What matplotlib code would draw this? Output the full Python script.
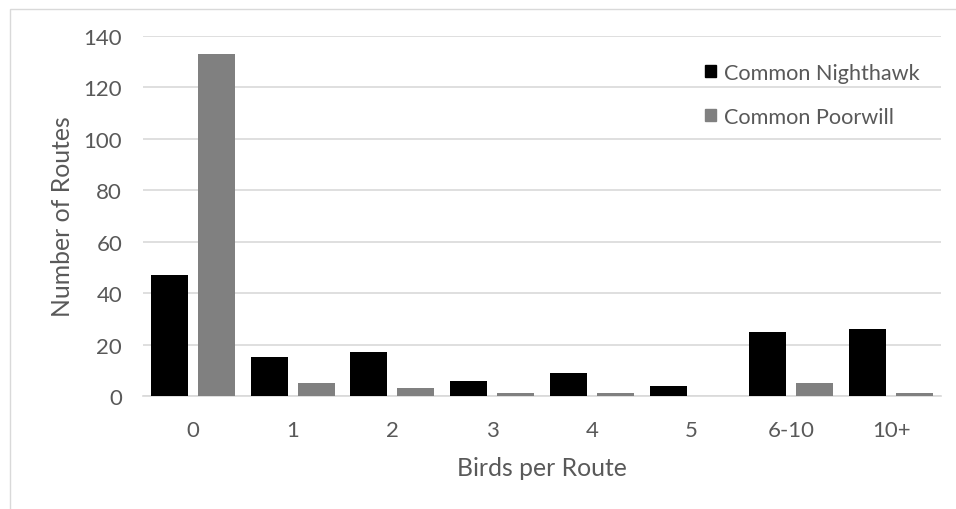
import matplotlib
matplotlib.use("Agg")
import matplotlib.pyplot as plt
import matplotlib.patches as mpatches
import numpy as np

# Breeding Bird Survey counts per route
categories = ["0", "1", "2", "3", "4", "5", "6-10", "10+"]
nighthawk = [47, 15, 17, 6, 9, 4, 25, 26]
poorwill = [133, 5, 3, 1, 1, 0, 5, 1]
series_names = ["Common Nighthawk", "Common Poorwill"]
y_ticks = [0, 20, 40, 60, 80, 100, 120, 140]

TEXT = "#595959"
GRID = "#d9d9d9"

plt.rcParams["font.family"] = ["Lato", "DejaVu Sans"]

fig = plt.figure(figsize=(9.56, 5.10), dpi=100)
ax = fig.add_axes([143 / 956, 1 - 397 / 510, 798 / 956, 360 / 510])

x = np.arange(len(categories))
width = 0.37
gap = 0.10
ax.bar(x - (width + gap) / 2, nighthawk, width, color="#000000", label=series_names[0], zorder=3)
ax.bar(x + (width + gap) / 2, poorwill, width, color="#808080", label=series_names[1], zorder=3)

ax.set_xlim(-0.5, len(categories) - 0.5)
ax.set_ylim(0, 140)
ax.set_yticks(y_ticks)
ax.set_xticks(x)
ax.set_xticklabels(categories)
ax.tick_params(axis="both", length=0, labelsize=16, colors=TEXT)
ax.tick_params(axis="y", pad=15)
ax.tick_params(axis="x", pad=17)
ax.grid(axis="y", color=GRID, linewidth=1.2, zorder=0)
for side in ("top", "right", "left"):
    ax.spines[side].set_visible(False)
ax.spines["bottom"].set_color(GRID)
ax.spines["bottom"].set_linewidth(1.2)

ax.set_xlabel("Birds per Route", fontsize=17.8, color=TEXT, labelpad=12)
ax.set_ylabel("Number of Routes", fontsize=17.8, color=TEXT, labelpad=7)

handles = [mpatches.Patch(color="#000000"), mpatches.Patch(color="#808080")]
leg = fig.legend(handles, series_names, loc="upper left",
                 bbox_to_anchor=(694 / 956, 1 - 53 / 510), borderpad=0,
                 frameon=False, fontsize=15.6, handlelength=0.5, handleheight=0.5,
                 handletextpad=0.4, labelspacing=1.1)
for t in leg.get_texts():
    t.set_color(TEXT)

# chart area border
fig.patches.append(mpatches.Rectangle((10 / 956, -0.1), 1.2, 1.1 - 9.5 / 510,
                                      transform=fig.transFigure, fill=False,
                                      edgecolor=GRID, linewidth=1.0))

fig.savefig("out.png", dpi=100)
